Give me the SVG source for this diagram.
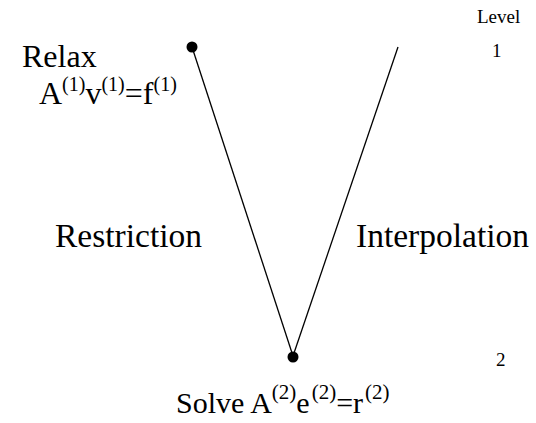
<svg xmlns="http://www.w3.org/2000/svg" width="536" height="423" viewBox="0 0 536 423">
<style>
text{font-family:"Liberation Serif","Times New Roman",serif;fill:#000}
.big{font-size:32px}
.mid{font-size:33.5px}
.sol{font-size:30px}
.sup{font-size:20px}
.sup2{font-size:21px}
.lvl{font-size:19px}
.edge{stroke:#000;stroke-width:1.3;fill:none}
</style>
<rect width="536" height="423" fill="#fff"/>
<g id="connectors">
<line class="edge" x1="192" y1="47" x2="293" y2="356"/>
<line class="edge" x1="293" y1="356" x2="398" y2="47"/>
</g>
<g id="node-relax">
<circle cx="192" cy="47" r="5.5"/>
<text class="big" x="22" y="67">Relax</text>
<text class="big" x="39" y="104">A<tspan class="sup" dy="-13">(1)</tspan><tspan dy="13">v</tspan><tspan class="sup" dy="-13">(1)</tspan><tspan dy="13">=f</tspan><tspan class="sup" dy="-13">(1)</tspan></text>
</g>
<g id="node-solve">
<circle cx="293" cy="357" r="5.5"/>
<text class="sol" x="176" y="413">Solve A<tspan class="sup2" dy="-14">(2)</tspan><tspan dy="14">e</tspan><tspan class="sup2" dx="2" dy="-14">(2)</tspan><tspan dy="14">=r</tspan><tspan class="sup2" dx="2" dy="-14">(2)</tspan></text>
</g>
<g id="labels">
<text class="mid" x="55" y="247">Restriction</text>
<text class="mid" x="356" y="247">Interpolation</text>
</g>
<g id="levels">
<text class="lvl" x="477" y="23">Level</text>
<text class="lvl" x="492" y="57">1</text>
<text class="lvl" x="496" y="366">2</text>
</g>
</svg>
